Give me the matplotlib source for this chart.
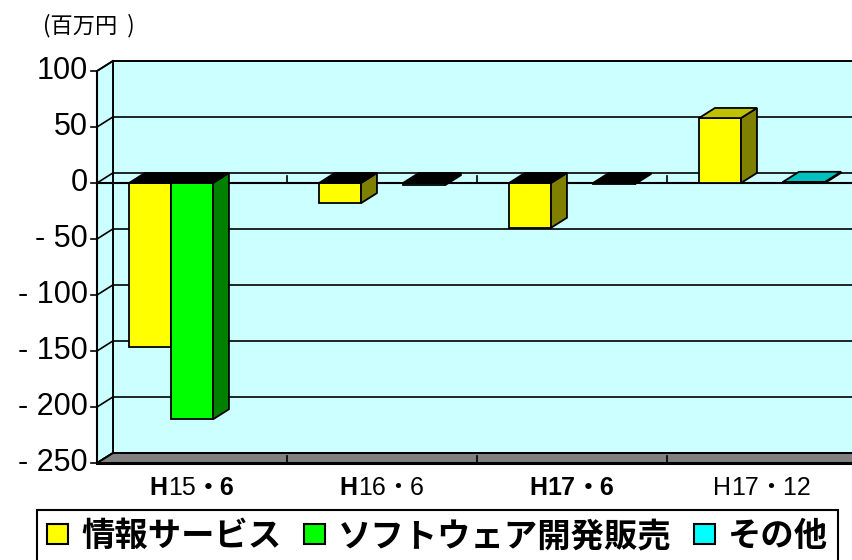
import matplotlib
matplotlib.use('Agg')
import matplotlib.pyplot as plt
from matplotlib.patches import Polygon, Patch

# data (百万円)
categories = ['H15・6', 'H16・6', 'H17・6', 'H17・12']
series = ['情報サービス', 'ソフトウェア開発販売', 'その他']
joho = [-146, -18, -40, 58]
soft = [-211, None, None, None]
sonota = [None, -2, -1, 1]
values = [joho, soft, sonota]

yticks = [100, 50, 0, -50, -100, -150, -200, -250]
ytick_labels = ['100', '50', '0', '- 50', '- 100', '- 150', '- 200', '- 250']

# weights of the "H", year and "・month" parts of each category label
label_weights = [('bold', 'normal', 'bold'),
                 ('bold', 'normal', 'normal'),
                 ('bold', 'bold', 'bold'),
                 ('normal', 'normal', 'normal')]

face_c = ['#FFFF00', '#00FF00', '#00FFFF']
side_c = ['#808000', '#008000', '#008080']
top_c = ['#C0C000', '#00C000', '#00C0C0']
wall_c = '#CCFFFF'
floor_c = '#808080'

JP = 'Noto Sans CJK JP'
LAT = ['Liberation Sans', 'Noto Sans CJK JP']

DX, DY = 0.084, 9.0       # depth offset of the back wall
W = 0.221                 # bar width
GAP = (1 - 3 * W) / 2
XR = 3.6                  # walls run off the right edge
LW = 1.3
YMIN, YMAX = -250, 100
XLIM = (-1.0105, 3.4737)

fig = plt.figure(figsize=(8.52, 5.6), dpi=100)
ax = fig.add_axes([0, 0, 1, 1])
ax.set_xlim(*XLIM)
ax.set_ylim(-336.6, 163.4)
ax.axis('off')

# back wall, side wall, floor
ax.add_patch(Polygon([(-0.5 + DX, YMIN + DY), (XR, YMIN + DY), (XR, YMAX + DY),
                      (-0.5 + DX, YMAX + DY)], fc=wall_c, ec='k', lw=LW, zorder=1))
ax.add_patch(Polygon([(-0.5, YMIN), (-0.5, YMAX), (-0.5 + DX, YMAX + DY),
                      (-0.5 + DX, YMIN + DY)], fc=wall_c, ec='k', lw=LW, zorder=1))
ax.add_patch(Polygon([(-0.5, YMIN), (XR, YMIN), (XR, YMIN + DY),
                      (-0.5 + DX, YMIN + DY)], fc=floor_c, ec='k', lw=LW, zorder=1))
ax.plot([-0.5, XR], [YMIN, YMIN], color='k', lw=2.2, zorder=2)

for v, lab in zip(yticks, ytick_labels):
    ax.plot([-0.5 + DX, XR], [v + DY, v + DY], color='k', lw=1.2, zorder=2)
    ax.plot([-0.5, -0.5 + DX], [v, v + DY], color='k', lw=1.2, zorder=2)
    ax.plot([-0.53, -0.5], [v, v], color='k', lw=1.2, zorder=2)
    ax.text(-0.547, v, lab, ha='right', va='center', fontsize=22, family=LAT)

ax.plot([-0.5, -0.5], [YMIN, YMAX], color='k', lw=1.5, zorder=2)

# category axis at zero, with ticks between categories
ax.plot([-0.5, XR], [0, 0], color='k', lw=1.5, zorder=2)
for j in range(len(categories) - 1):
    ax.plot([j + 0.5, j + 0.5], [0, 6], color='k', lw=1.2, zorder=2)
    ax.plot([j + 0.5, j + 0.5], [YMIN, YMIN + 6], color='k', lw=1.2, zorder=2)

# bars with side and top faces
for j in range(len(categories)):
    for i, vals in enumerate(values):
        v = vals[j]
        if v is None:
            continue
        x0 = j - 0.5 + GAP + i * W
        x1 = x0 + W
        ax.bar(x0, v, width=W, align='edge', color=face_c[i], edgecolor='k',
               linewidth=LW, zorder=3)
        ax.add_patch(Polygon([(x1, 0), (x1, v), (x1 + DX, v + DY), (x1 + DX, DY)],
                             fc=side_c[i], ec='k', lw=LW, zorder=3))
        h = max(v, 0)
        ax.add_patch(Polygon([(x0, h), (x1, h), (x1 + DX, h + DY), (x0 + DX, h + DY)],
                             fc=top_c[i] if v > 0 else 'black', ec='k', lw=LW, zorder=3))

# category labels, built from parts of different weight
fig.canvas.draw()
r = fig.canvas.get_renderer()
units_per_px = (XLIM[1] - XLIM[0]) / (8.52 * fig.dpi)
for j, (cat, wts) in enumerate(zip(categories, label_weights)):
    year, month = cat[1:].split('・')
    parts = ['H', year, '・' + month]
    first = ax.text(j, -272, parts[0], ha='left', va='center', fontsize=18,
                    family=LAT, weight=wts[0])
    t = first
    for p, w in zip(parts[1:], wts[1:]):
        t = ax.annotate(p, xy=(1, 0), xycoords=t, ha='left', va='bottom',
                        fontsize=18, family=LAT, weight=w)
    fig.canvas.draw()
    b0 = first.get_window_extent(r)
    b1 = t.get_window_extent(r)
    first.set_x(j - (b1.x1 - b0.x0) * units_per_px / 2)

ax.text(-0.784, 141, '(百万円  )', ha='left', va='center', fontsize=16, family=JP)

handles = [Patch(facecolor=c, edgecolor='k', linewidth=1.5) for c in face_c]
leg = ax.legend(handles, series, loc='upper left', bbox_to_anchor=(37 / 852, 1 - 510 / 560),
                ncol=3, prop=dict(family=JP, weight='bold', size=24), frameon=True,
                fancybox=False, edgecolor='k', framealpha=1, borderpad=0.3,
                handlelength=0.64, handleheight=0.55, handletextpad=0.4,
                columnspacing=0.65, borderaxespad=0)
leg.get_frame().set_linewidth(1.5)

fig.savefig('out.png', dpi=100)
